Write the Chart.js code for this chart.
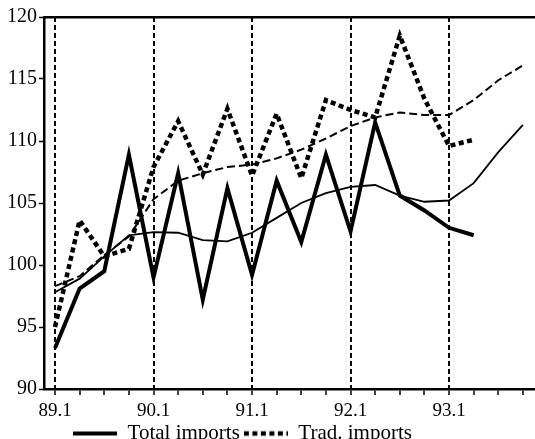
<!DOCTYPE html>
<html><head><meta charset="utf-8">
<script src="https://cdn.jsdelivr.net/npm/chart.js@4.4.0/dist/chart.umd.min.js"></script>
<style>html,body{margin:0;padding:0;background:#fff;overflow:hidden}#wrap{position:relative;width:535px;height:439px;overflow:hidden}#c{position:absolute;left:-50px;top:0}</style>
</head><body><div id="wrap"><canvas id="c" width="585" height="454"></canvas></div>
<script>
const quarters = ['89.1','89.2','89.3','89.4','90.1','90.2','90.3','90.4','91.1','91.2','91.3','91.4','92.1','92.2','92.3','92.4','93.1','93.2','93.3','93.4'];
const totalImports = [93.3, 98.1, 99.5, 108.9, 99.0, 107.4, 97.2, 106.2, 99.2, 106.8, 101.85, 108.9, 102.7, 111.5, 105.6, 104.4, 103.0, 102.4];
const tradImports  = [95.0, 103.6, 100.7, 101.3, 107.9, 111.6, 107.3, 112.6, 107.2, 112.2, 107.0, 113.3, 112.5, 111.9, 118.5, 113.4, 109.6, 110.1];
const totalTrend   = [97.8, 98.9, 100.7, 102.4, 102.65, 102.6, 102.0, 101.9, 102.6, 103.8, 105.0, 105.8, 106.3, 106.45, 105.6, 105.1, 105.2, 106.6, 109.1, 111.3];
const tradTrend    = [98.3, 99.1, 100.8, 102.3, 105.3, 106.8, 107.4, 107.9, 108.1, 108.6, 109.3, 110.2, 111.2, 111.9, 112.3, 112.1, 112.1, 113.3, 114.9, 116.1];
const yTicks = [90, 95, 100, 105, 110, 115, 120];
const legendLabels = ['Total imports', 'Trad. imports'];

const pts = arr => arr.map((v, i) => ({x: i, y: v}));
const FONT = "'Liberation Serif', 'Times New Roman', serif";
const XMIN = -0.447, XMAX = 19.49;

function legendIcon(lw, dash) {
  const cv = document.createElement('canvas');
  cv.width = 44; cv.height = 8;
  const g = cv.getContext('2d');
  g.strokeStyle = '#000'; g.lineWidth = lw; g.setLineDash(dash);
  g.beginPath(); g.moveTo(0, 4); g.lineTo(44, 4); g.stroke();
  return cv;
}

new Chart(document.getElementById('c'), {
  type: 'line',
  data: {
    datasets: [
      {label: legendLabels[0], data: pts(totalImports), borderColor: '#000', borderWidth: 4, pointRadius: 0, tension: 0, borderJoinStyle: 'miter', pointStyle: legendIcon(4, [])},
      {label: legendLabels[1], data: pts(tradImports), borderColor: '#000', borderWidth: 4.5, borderDash: [5, 3.5], pointRadius: 0, tension: 0, pointStyle: legendIcon(4.5, [5, 3.5])},
      {label: 'Total trend', data: pts(totalTrend), borderColor: '#000', borderWidth: 1.8, pointRadius: 0, tension: 0},
      {label: 'Trad trend', data: pts(tradTrend), borderColor: '#000', borderWidth: 2, borderDash: [8, 4], pointRadius: 0, tension: 0}
    ]
  },
  options: {
    responsive: false,
    animation: false,
    devicePixelRatio: 1,
    layout: {padding: {top: 17, left: 0, right: 0, bottom: 0}},
    plugins: {
      tooltip: {enabled: false},
      legend: {
        position: 'bottom',
        labels: {
          color: '#000',
          font: {family: FONT, size: 21},
          usePointStyle: true,
          pointStyleWidth: 44,
          padding: 4,
          filter: item => item.datasetIndex < 2
        }
      }
    },
    scales: {
      x: {
        type: 'linear', position: 'bottom', min: XMIN, max: XMAX,
        afterBuildTicks: s => { s.ticks = quarters.map((q, i) => ({value: i})); },
        afterFit: s => { s.height = 30; },
        ticks: {
          autoSkip: false, maxRotation: 0, color: '#000', padding: 5,
          font: {family: FONT, size: 19},
          callback: v => (v % 4 === 0 ? quarters[v] : '')
        },
        grid: {
          color: c => (c.tick && c.tick.value % 4 === 0) ? '#000' : 'rgba(0,0,0,0)',
          lineWidth: 2, tickColor: '#000', tickLength: 6, tickWidth: 1.5
        },
        border: {display: true, color: '#000', width: 2.5, dash: [5, 3]}
      },
      x2: {
        type: 'linear', position: 'top', min: XMIN, max: XMAX,
        ticks: {display: false},
        grid: {display: false, drawTicks: false},
        border: {display: true, color: '#000', width: 2.5},
        afterFit: s => { s.height = 0; }
      },
      y: {
        min: 90, max: 120,
        afterBuildTicks: s => { s.ticks = yTicks.map(v => ({value: v})); },
        afterFit: s => { s.width = 94; },
        ticks: {color: '#000', padding: 2, font: {family: FONT, size: 20}},
        grid: {drawOnChartArea: false, drawTicks: true, tickLength: 5, tickColor: '#000', tickWidth: 1.5},
        border: {display: true, color: '#000', width: 2.5}
      }
    }
  }
});
</script></body></html>
